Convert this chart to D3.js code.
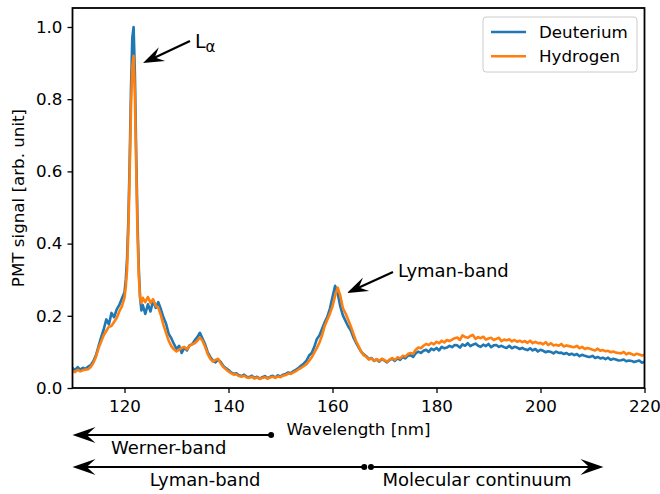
<!DOCTYPE html>
<html>
<head>
<meta charset="utf-8">
<script src="https://cdn.jsdelivr.net/npm/d3@7"></script>
<style>
  body { margin: 0; background: #fff; }
  svg { display: block; font-family: "DejaVu Sans", sans-serif; }
</style>
</head>
<body>
<svg id="chart" width="660" height="494"></svg>
<script>
// Sampling grid [nm]; finer around the Lyman-alpha line
const wavelength = [
  110, 110.5, 111, 111.5, 112, 112.5, 113, 113.5, 114, 114.5,
  115, 115.5, 116, 116.5, 117, 117.5, 118, 118.5, 119, 119.5,
  120,
  120.25, 120.5, 120.75, 121, 121.25, 121.5, 121.75, 122, 122.25, 122.5, 122.75, 123, 123.25, 123.5,
  124, 124.5, 125, 125.5, 126, 126.5, 127, 127.5, 128, 128.5,
  129, 129.5, 130, 130.5, 131, 131.5, 132, 132.5, 133, 133.5,
  134, 134.5, 135, 135.5, 136, 136.5, 137, 137.5, 138, 138.5,
  139, 139.5, 140, 140.5, 141, 141.5, 142, 142.5, 143, 143.5,
  144, 144.5, 145, 145.5, 146, 146.5, 147, 147.5, 148, 148.5,
  149, 149.5, 150, 150.5, 151, 151.5, 152, 152.5, 153, 153.5,
  154, 154.5, 155, 155.5, 156, 156.5, 157, 157.5, 158, 158.5,
  159, 159.5, 160, 160.5, 161, 161.5, 162, 162.5, 163, 163.5,
  164, 164.5, 165, 165.5, 166, 166.5, 167, 167.5, 168, 168.5,
  169, 169.5, 170, 170.5, 171, 171.5, 172, 172.5, 173, 173.5,
  174, 174.5, 175, 175.5, 176, 176.5, 177, 177.5, 178, 178.5,
  179, 179.5, 180, 180.5, 181, 181.5, 182, 182.5, 183, 183.5,
  184, 184.5, 185, 185.5, 186, 186.5, 187, 187.5, 188, 188.5,
  189, 189.5, 190, 190.5, 191, 191.5, 192, 192.5, 193, 193.5,
  194, 194.5, 195, 195.5, 196, 196.5, 197, 197.5, 198, 198.5,
  199, 199.5, 200, 200.5, 201, 201.5, 202, 202.5, 203, 203.5,
  204, 204.5, 205, 205.5, 206, 206.5, 207, 207.5, 208, 208.5,
  209, 209.5, 210, 210.5, 211, 211.5, 212, 212.5, 213, 213.5,
  214, 214.5, 215, 215.5, 216, 216.5, 217, 217.5, 218, 218.5,
  219, 219.5, 220
];

// PMT signal [arb. unit]
const deuterium = [
  .055, .050, .058, .051, .056, .053, .059, .063, .074, .090,
  .115, .140, .162, .190, .176, .208, .196, .218, .230, .248,
  .265,
  .30, .36, .47, .63, .83, .97, 1.0, .87, .65, .46, .33, .25, .215, .23,
  .205, .232, .212, .242, .222, .238, .218, .195, .178, .150,
  .138, .122, .108, .117, .097, .112, .104, .118, .121, .132,
  .141, .153, .137, .121, .099, .086, .076, .071, .079, .072,
  .061, .055, .050, .043, .039, .041, .035, .033, .037, .031,
  .030, .034, .028, .031, .026, .030, .033, .027, .031, .034,
  .029, .035, .032, .037, .039, .043, .041, .047, .051, .056,
  .062, .068, .076, .090, .097, .114, .136, .146, .164, .182,
  .197, .220, .252, .283, .262, .226, .201, .186, .171, .160,
  .141, .126, .113, .101, .093, .088, .080, .083, .075, .079,
  .073, .080, .076, .071, .078, .081, .075, .082, .078, .086,
  .082, .089, .091, .086, .096, .101, .097, .103, .106, .100,
  .109, .105, .111, .104, .114, .110, .112, .117, .113, .119,
  .118, .112, .121, .117, .124, .116, .120, .123, .117, .114,
  .120, .116, .122, .113, .118, .119, .114, .117, .113, .111,
  .117, .110, .114, .112, .108, .111, .107, .105, .110, .104,
  .108, .101, .106, .103, .099, .102, .100, .096, .101, .097,
  .098, .094, .097, .092, .095, .091, .094, .088, .092, .089,
  .087, .086, .089, .083, .086, .082, .084, .080, .084, .078,
  .081, .079, .076, .077, .079, .074, .076, .075, .072, .074,
  .076, .070, .073
];

const hydrogen = [
  .048, .044, .050, .046, .049, .051, .052, .058, .069, .086,
  .110, .128, .146, .158, .170, .172, .183, .194, .212, .226,
  .250,
  .28, .33, .44, .60, .78, .89, .92, .81, .61, .43, .31, .25, .235, .25,
  .238, .252, .236, .246, .228, .222, .201, .174, .152, .131,
  .116, .107, .101, .106, .111, .114, .107, .117, .121, .124,
  .131, .140, .131, .114, .094, .081, .073, .078, .081, .068,
  .058, .052, .046, .041, .037, .038, .033, .031, .034, .029,
  .028, .031, .026, .029, .025, .028, .030, .026, .029, .031,
  .028, .032, .030, .034, .036, .040, .039, .043, .047, .052,
  .056, .061, .066, .075, .085, .098, .111, .126, .146, .172,
  .189, .206, .226, .256, .278, .256, .221, .207, .190, .172,
  .151, .131, .116, .101, .091, .086, .079, .082, .076, .080,
  .075, .081, .077, .073, .079, .083, .078, .085, .082, .089,
  .087, .094, .097, .095, .106, .112, .110, .117, .122, .119,
  .125, .121, .128, .124, .131, .126, .133, .130, .134, .138,
  .140, .133, .146, .141, .139, .144, .147, .136, .141, .138,
  .142, .134, .137, .139, .133, .136, .139, .130, .134, .132,
  .135, .129, .133, .128, .131, .127, .130, .125, .131, .124,
  .128, .124, .125, .121, .127, .119, .124, .118, .120, .117,
  .122, .115, .118, .116, .114, .113, .117, .110, .114, .108,
  .111, .109, .106, .104, .109, .103, .105, .102, .103, .099,
  .101, .098, .097, .096, .100, .093, .097, .094, .091, .095,
  .093, .090, .092
];

const seriesNames = ["Deuterium", "Hydrogen"];
const seriesColors = ["#1f77b4", "#ff7f0e"];
const xTicks = [120, 140, 160, 180, 200, 220];
const yTicks = [0, 0.2, 0.4, 0.6, 0.8, 1.0];

// Band ranges drawn under the axis [nm]
const bands = [
  { label: "Werner-band", from: 148.2, to: 110, row: 0, textAt: 128.5 },
  { label: "Lyman-band", from: 166.1, to: 110, row: 1, textAt: 135.5 },
  { label: "Molecular continuum", from: 167.4, to: 212.1, row: 1, textAt: 187.8 }
];

const svg = d3.select("#chart");
const plotLeft = 72.5, plotRight = 644.5, plotTop = 8, plotBottom = 388;

const x = d3.scaleLinear().domain([110, 220]).range([plotLeft, plotRight]);
const y = d3.scaleLinear().domain([0, 1.0526]).range([plotBottom, plotTop]);

const baseFont = "16.7px";
const noteFont = "18px";

// curves
const line = d3.line()
  .x(d => x(d[0]))
  .y(d => y(d[1]));

const plot = svg.append("g");
[deuterium, hydrogen].forEach((values, i) => {
  plot.append("path")
    .datum(wavelength.map((w, k) => [w, values[k]]))
    .attr("d", line)
    .attr("fill", "none")
    .attr("stroke", seriesColors[i])
    .attr("stroke-width", 2.6)
    .attr("stroke-linejoin", "round");
});

// axes
const xAxis = svg.append("g")
  .attr("transform", `translate(0,${plotBottom})`)
  .call(d3.axisBottom(x).tickValues(xTicks).tickSize(5).tickPadding(7).tickFormat(d3.format("d")));
const yAxis = svg.append("g")
  .attr("transform", `translate(${plotLeft},0)`)
  .call(d3.axisLeft(y).tickValues(yTicks).tickSize(5).tickPadding(5).tickFormat(d3.format(".1f")));

[xAxis, yAxis].forEach(g => {
  g.select(".domain").remove();
  g.selectAll(".tick line").attr("stroke", "#000").attr("stroke-width", 1.3);
  g.selectAll(".tick text")
    .attr("fill", "#000")
    .style("font-family", "DejaVu Sans")
    .style("font-size", baseFont);
});

// frame
svg.append("rect")
  .attr("x", plotLeft).attr("y", plotTop)
  .attr("width", plotRight - plotLeft).attr("height", plotBottom - plotTop)
  .attr("fill", "none")
  .attr("stroke", "#000")
  .attr("stroke-width", 1.8);

// axis labels
svg.append("text")
  .attr("x", (plotLeft + plotRight) / 2).attr("y", 435)
  .attr("text-anchor", "middle")
  .style("font-size", baseFont)
  .text("Wavelength [nm]");

svg.append("text")
  .attr("transform", `translate(24,${(plotTop + plotBottom) / 2}) rotate(-90)`)
  .attr("text-anchor", "middle")
  .style("font-size", baseFont)
  .text("PMT signal [arb. unit]");

// stealth-style arrow head pointing at (tx,ty) coming from (sx,sy)
function arrowHead(g, sx, sy, tx, ty, len, half) {
  const a = Math.atan2(ty - sy, tx - sx);
  const ca = Math.cos(a), sa = Math.sin(a);
  const bx = tx - len * ca, by = ty - len * sa;
  const nx = tx - len * 0.62 * ca, ny = ty - len * 0.62 * sa;
  const p = [
    [tx, ty],
    [bx - half * sa, by + half * ca],
    [nx, ny],
    [bx + half * sa, by - half * ca]
  ];
  g.append("path")
    .attr("d", "M" + p.map(q => q.join(",")).join("L") + "Z")
    .attr("fill", "#000");
}

function annotate(tailX, tailY, tipX, tipY) {
  const g = svg.append("g");
  const a = Math.atan2(tipY - tailY, tipX - tailX);
  g.append("line")
    .attr("x1", tailX).attr("y1", tailY)
    .attr("x2", tipX - 12 * Math.cos(a)).attr("y2", tipY - 12 * Math.sin(a))
    .attr("stroke", "#000").attr("stroke-width", 2.2);
  arrowHead(g, tailX, tailY, tipX, tipY, 21, 7.5);
  return g;
}

// L alpha
annotate(190, 41, 143, 63);
const la = svg.append("text").attr("x", 195).attr("y", 48).style("font-size", "19px");
la.append("tspan").text("L");
la.append("tspan").attr("dy", 4).style("font-size", "15px").text("α");

// Lyman-band peak
annotate(393, 272, 347, 293);
svg.append("text")
  .attr("x", 398).attr("y", 277)
  .style("font-size", noteFont)
  .text("Lyman-band");

// band ranges below the axis
const rowY = [435, 467];
bands.forEach(b => {
  const g = svg.append("g");
  const yy = rowY[b.row];
  const dir = Math.sign(b.to - b.from);
  g.append("line")
    .attr("x1", x(b.from)).attr("y1", yy)
    .attr("x2", x(b.to) - dir * 14).attr("y2", yy)
    .attr("stroke", "#000").attr("stroke-width", 2.2);
  arrowHead(g, x(b.from), yy, x(b.to), yy, 23, 8);
  g.append("circle")
    .attr("cx", x(b.from)).attr("cy", yy).attr("r", 3)
    .attr("fill", "#000");
  g.append("text")
    .attr("x", x(b.textAt)).attr("y", yy + 19)
    .attr("text-anchor", "middle")
    .style("font-size", noteFont)
    .text(b.label);
});

// legend
const lg = svg.append("g");
lg.append("rect")
  .attr("x", 483).attr("y", 17).attr("width", 154).attr("height", 55)
  .attr("rx", 3)
  .attr("fill", "#fff").attr("fill-opacity", 0.8)
  .attr("stroke", "#ccc");
seriesNames.forEach((name, i) => {
  const yy = 32 + i * 24.3;
  lg.append("line")
    .attr("x1", 491).attr("x2", 526).attr("y1", yy).attr("y2", yy)
    .attr("stroke", seriesColors[i]).attr("stroke-width", 2.6);
  lg.append("text")
    .attr("x", 539).attr("y", yy + 6)
    .style("font-size", baseFont)
    .text(name);
});
</script>
</body>
</html>
